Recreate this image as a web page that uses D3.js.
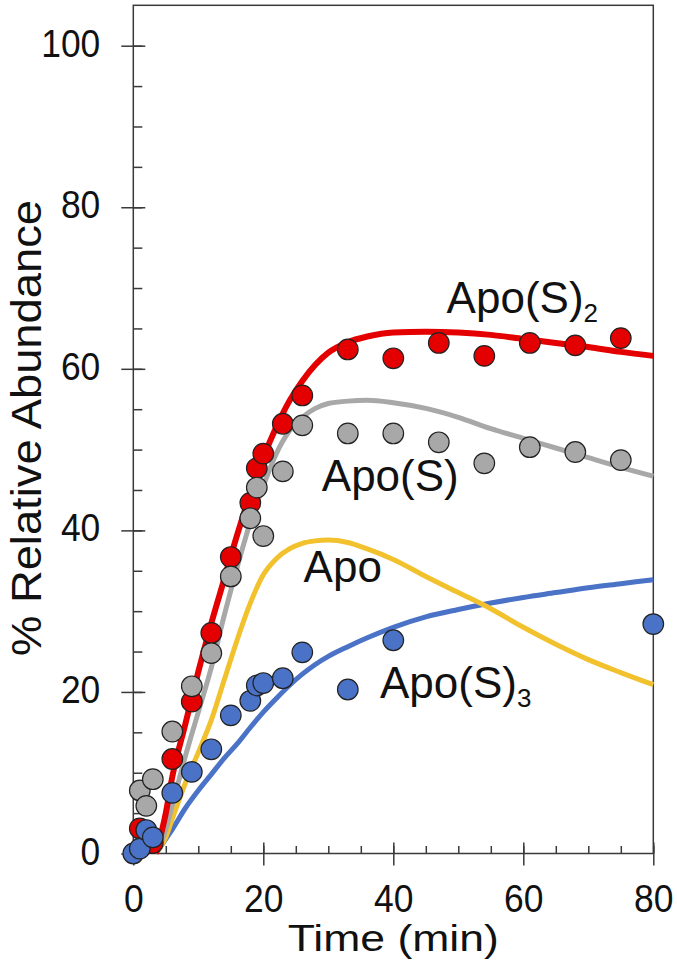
<!DOCTYPE html>
<html><head><meta charset="utf-8">
<script src="https://cdn.jsdelivr.net/npm/d3@7"></script>
<style>html,body{margin:0;padding:0;background:#fff;}svg{display:block;}</style>
</head><body>
<script>
// ---- data ----
const xTicks = [0, 20, 40, 60, 80];
const yTicks = [0, 20, 40, 60, 80, 100];

const redT  = [1, 3, 6, 9, 12, 15, 18, 19, 20, 23, 26, 33, 40, 47, 54, 61, 68, 75];
const redV  = [3.1, 1.3, 11.7, 18.8, 27.3, 36.7, 43.4, 47.7, 49.5, 53.2, 56.7, 62.4, 61.3, 63.2, 61.6, 63.2, 62.9, 63.8];
const grayT = [1, 2, 3, 6, 9, 12, 15, 18, 19, 20, 23, 26, 33, 40, 47, 54, 61, 68, 75];
const grayV = [7.8, 5.9, 9.2, 15.1, 20.7, 24.8, 34.3, 41.5, 45.3, 39.3, 47.3, 53.0, 52.0, 52.0, 50.9, 48.3, 50.3, 49.7, 48.7];
const blueT = [0, 1, 2, 3, 6, 9, 12, 15, 18, 19, 20, 23, 26, 33, 40, 80];
const blueV = [0, 0.6, 2.9, 2.0, 7.5, 10.1, 12.9, 17.1, 18.9, 20.8, 21.1, 21.7, 24.9, 20.3, 26.4, 28.4];

const fitT    = [3.5, 5, 6, 8, 10, 12, 14, 16, 18, 20, 22, 24, 26, 28, 30, 33, 36, 40, 45, 50, 55, 60, 65, 70, 75, 80];
const redFit  = [0, 5, 9.5, 16, 22.5, 28.5, 34, 39.5, 44.5, 49, 52.8, 56, 58.5, 60.5, 62, 63.3, 64, 64.5, 64.6, 64.5, 64.2, 63.7, 63.2, 62.7, 62.1, 61.6];
const grayFit = [0, 3, 6, 12, 17.5, 23, 29.5, 35.5, 41, 45.5, 49.5, 52.3, 54, 55.1, 55.7, 56, 56.1, 55.8, 55.1, 54, 52.6, 51.4, 50.2, 49, 47.8, 46.7];
const apoFit  = [0, 2, 4.3, 8.7, 12.5, 16.5, 21.5, 26.5, 31, 34.5, 36.5, 37.7, 38.4, 38.7, 38.8, 38.5, 37.7, 36.4, 34.3, 32.3, 30.3, 28, 25.9, 24, 22.4, 20.9];
const blueFit = [0, 1.8, 3, 5.6, 7.8, 9.8, 11.8, 13.6, 15.6, 17.5, 19.2, 20.8, 22.2, 23.4, 24.4, 25.6, 26.7, 28, 29.3, 30.2, 31, 31.7, 32.3, 32.9, 33.4, 33.9];

const labelText = ["Apo(S)", "Apo(S)", "Apo", "Apo(S)"];
const labelSub  = ["2", "", "", "3"];

// ---- drawing ----
const W = 677, H = 972;
const FONT = "'Liberation Sans', Arial, sans-serif";
const svg = d3.select("body").append("svg").attr("width", W).attr("height", H);

const x = d3.scaleLinear().domain([0, 80]).range([133.3, 653.3]);
const y = d3.scaleLinear().domain([0, 105]).range([853.5, 5.3]);

const C = {
  red: "#e40000", gray: "#a8a8a8", yellow: "#f2c12e", blue: "#4a72c6",
  frame: "#3a3a3a"
};

// frame
svg.append("rect")
  .attr("x", x(0)).attr("y", y(105))
  .attr("width", x(80) - x(0)).attr("height", y(0) - y(105))
  .attr("fill", "none").attr("stroke", C.frame).attr("stroke-width", 1.5);

// axes
const minorY = d3.range(0, 105, 5);
const minorX = d3.range(0, 81, 5);

function styleAxis(g) {
  g.select(".domain").remove();
  g.selectAll("line").attr("stroke", C.frame).attr("stroke-width", 1.5);
}

// y axis: labels + outward major ticks
svg.append("g").attr("transform", `translate(${x(0)},0)`)
  .call(d3.axisLeft(y).tickValues(yTicks).tickSizeInner(12).tickSizeOuter(0).tickPadding(21))
  .call(styleAxis)
  .call(g => g.selectAll("text")
    .attr("font-family", FONT).attr("font-size", 39).attr("fill", "#111")
    .attr("dy", "0.27em")
    .attr("textLength", d => 19.7 * String(d).length)
    .attr("lengthAdjust", "spacingAndGlyphs"));
// y inward ticks
svg.append("g").attr("transform", `translate(${x(0)},0)`)
  .call(d3.axisRight(y).tickValues(minorY).tickSize(9).tickFormat(""))
  .call(styleAxis);
svg.append("g").attr("transform", `translate(${x(0)},0)`)
  .call(d3.axisRight(y).tickValues(yTicks).tickSize(12).tickFormat(""))
  .call(styleAxis);

// x axis
svg.append("g").attr("transform", `translate(0,${y(0)})`)
  .call(d3.axisBottom(x).tickValues(xTicks).tickSizeInner(12).tickSizeOuter(0).tickPadding(18.5))
  .call(styleAxis)
  .call(g => g.selectAll("text")
    .attr("font-family", FONT).attr("font-size", 39).attr("fill", "#111")
    .attr("textLength", d => 19.7 * String(d).length)
    .attr("lengthAdjust", "spacingAndGlyphs"));
svg.append("g").attr("transform", `translate(0,${y(0)})`)
  .call(d3.axisTop(x).tickValues(minorX).tickSize(7.5).tickFormat(""))
  .call(styleAxis);
svg.append("g").attr("transform", `translate(0,${y(0)})`)
  .call(d3.axisTop(x).tickValues(xTicks).tickSize(11).tickFormat(""))
  .call(styleAxis);

// axis titles
svg.append("text")
  .attr("x", (x(0) + x(80)) / 2).attr("y", 951)
  .attr("text-anchor", "middle")
  .attr("font-family", FONT).attr("font-size", 36).attr("fill", "#111")
  .attr("textLength", 211).attr("lengthAdjust", "spacingAndGlyphs")
  .text("Time (min)");
svg.append("text")
  .attr("transform", "translate(41,428) rotate(-90)")
  .attr("text-anchor", "middle")
  .attr("font-family", FONT).attr("font-size", 42).attr("fill", "#111")
  .attr("textLength", 456).attr("lengthAdjust", "spacingAndGlyphs")
  .text("% Relative Abundance");

// fit lines
const line = d3.line().x(d => x(d[0])).y(d => y(d[1])).curve(d3.curveMonotoneX);
const fits = [
  {v: blueFit, c: C.blue, w: 5},
  {v: apoFit, c: C.yellow, w: 5},
  {v: grayFit, c: C.gray, w: 5},
  {v: redFit, c: C.red, w: 6}
];
fits.forEach(f => {
  svg.append("path")
    .datum(fitT.map((t, i) => [t, f.v[i]]))
    .attr("d", line)
    .attr("fill", "none").attr("stroke", f.c).attr("stroke-width", f.w)
    .attr("stroke-linejoin", "round").attr("stroke-linecap", "butt");
});

// points
const pts = [
  {t: redT, v: redV, c: C.red},
  {t: grayT, v: grayV, c: C.gray},
  {t: blueT, v: blueV, c: C.blue}
];
pts.forEach(p => {
  svg.append("g").selectAll("circle")
    .data(p.t.map((t, i) => [t, p.v[i]]))
    .join("circle")
    .attr("cx", d => x(d[0])).attr("cy", d => y(d[1])).attr("r", 10.3)
    .attr("fill", p.c).attr("stroke", "#222").attr("stroke-width", 1.2);
});

// series labels (anchored in data coordinates)
const labelPos = [[48.2, 66.9], [29.0, 44.9], [26.2, 33.6], [37.95, 19.2]];
labelText.forEach((txt, i) => {
  const t = svg.append("text")
    .attr("x", x(labelPos[i][0])).attr("y", y(labelPos[i][1]))
    .attr("font-family", FONT).attr("font-size", 44).attr("fill", "#111")
    .text(txt);
  if (labelSub[i]) {
    t.append("tspan").attr("font-size", 26).attr("dy", 9).text(labelSub[i]);
  }
});
</script>
</body></html>
